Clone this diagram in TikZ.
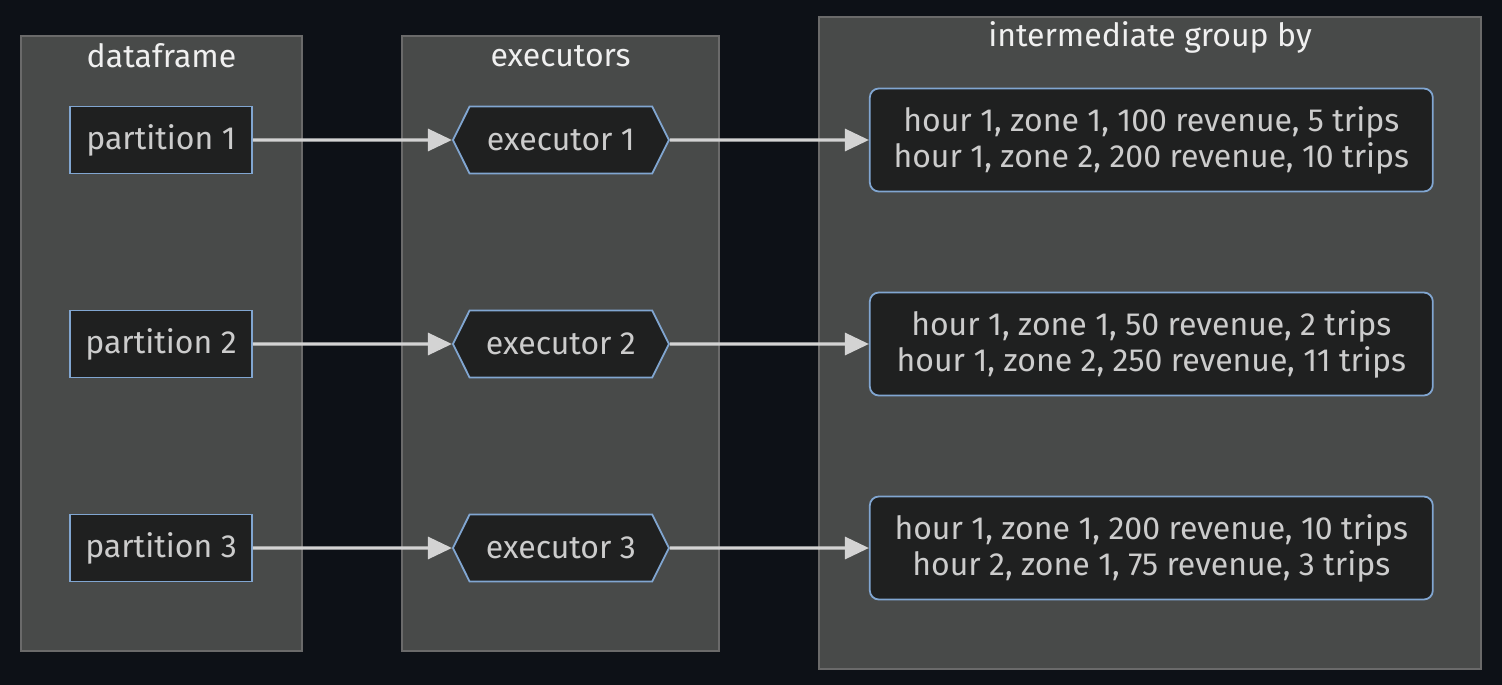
\documentclass[tikz,border=0pt]{standalone}
\usepackage{fontspec}
\setmainfont{Fira Sans}
\usepackage{tikz}
\usetikzlibrary{positioning, shapes.symbols, arrows.meta}
\definecolor{bgdark}{HTML}{0D1117}
\definecolor{clusterfill}{HTML}{484A49}
\definecolor{clusterline}{HTML}{6A6A6A}
\definecolor{nodefill}{HTML}{1F2020}
\definecolor{nodeline}{HTML}{81A6D1}
\definecolor{labeltext}{HTML}{CCCCCC}
\definecolor{titletext}{HTML}{F0F0F0}
\definecolor{flowline}{HTML}{D3D3D3}
\tikzset{
    cluster/.style = {rectangle, draw = clusterline, fill = clusterfill, line width = 1.2pt, inner sep = 0pt},
    title/.style = {text = titletext, font = \fontsize{32}{36}\selectfont, inner sep = 0pt},
    part/.style = {rectangle, draw = nodeline, fill = nodefill, text = labeltext, line width = 1.8pt,
        minimum width = 182pt, minimum height = 67pt, inner sep = 0pt, font = \fontsize{32}{36}\selectfont},
    exec/.style = {signal, signal to = west and east, signal pointer angle = 127, draw = nodeline,
        fill = nodefill, text = labeltext, line width = 1.8pt, minimum width = 216pt, minimum height = 67pt,
        inner sep = 0pt, font = \fontsize{32}{36}\selectfont},
    group/.style = {rectangle, rounded corners = 9pt, draw = nodeline, fill = nodefill, text = labeltext,
        line width = 1.8pt, minimum width = 563pt, minimum height = 103pt, inner sep = 0pt, align = center,
        font = \fontsize{32}{36}\selectfont},
    flow/.style = {draw = flowline, line width = 3.2pt, -{Triangle[length = 24pt, width = 22pt]}}
}

\begin{document}
\begin{tikzpicture}[x = 1pt, y = -1pt]
    \fill [bgdark] (0, 0) rectangle (1502, 685);
    \useasboundingbox (0, 0) rectangle (1502, 685);
    % clusters
    \node [cluster, minimum width = 281pt, minimum height = 615pt] (df) at (161.5, 343.5) {};
    \node [cluster, minimum width = 317pt, minimum height = 615pt] (ex) at (560.5, 343.5) {};
    \node [cluster, minimum width = 662pt, minimum height = 652pt] (ig) at (1150, 343) {};
    \node [title] (tdf) at (161.5, 56) {dataframe};
    \node [title] (tex) at (560.5, 56) {executors};
    \node [title] (tig) at (1150, 37) {intermediate group by};
    % partitions
    \node [part] (p1) at (161, 140) {partition 1};
    \node [part] (p2) at (161, 344) {partition 2};
    \node [part] (p3) at (161, 548) {partition 3};
    % executors
    \node [exec, right = 199pt of p1] (e1) {executor 1};
    \node [exec, right = 199pt of p2] (e2) {executor 2};
    \node [exec, right = 199pt of p3] (e3) {executor 3};
    % intermediate results
    \node [group, right = 199pt of e1] (g1) {hour 1, zone 1, 100 revenue, 5 trips\\hour 1, zone 2, 200 revenue, 10 trips};
    \node [group, right = 199pt of e2] (g2) {hour 1, zone 1, 50 revenue, 2 trips\\hour 1, zone 2, 250 revenue, 11 trips};
    \node [group, right = 199pt of e3] (g3) {hour 1, zone 1, 200 revenue, 10 trips\\hour 2, zone 1, 75 revenue, 3 trips};
    % edges
    \draw [flow] (p1) -- (e1);
    \draw [flow] (p2) -- (e2);
    \draw [flow] (p3) -- (e3);
    \draw [flow] (e1) -- (g1);
    \draw [flow] (e2) -- (g2);
    \draw [flow] (e3) -- (g3);
\end{tikzpicture}
\end{document}
